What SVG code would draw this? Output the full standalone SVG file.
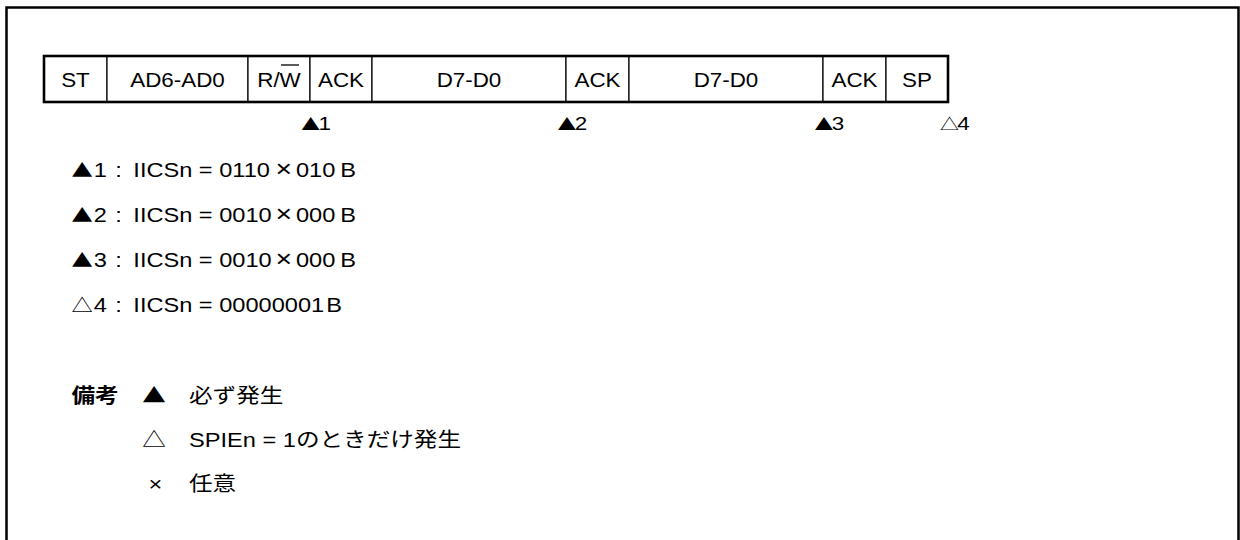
<svg xmlns="http://www.w3.org/2000/svg" width="1240" height="540" viewBox="0 0 1240 540">
<style>
.frame{fill:none;stroke:#000;stroke-width:2.5}
.cell{fill:#fff;stroke:#000;stroke-width:1.2}
.outline{fill:none;stroke:#000;stroke-width:2.6}
.t{transform:scale(1.18,1);font-family:"Liberation Sans","Noto Sans CJK JP",sans-serif;fill:#000}
.tr{transform:scale(1.12,1);font-family:"Liberation Sans","Noto Sans CJK JP",sans-serif;fill:#000}
.lbl{font-size:20px;text-anchor:middle}
.mk{font-size:19px}
.sym{font-family:"Noto Sans CJK JP",sans-serif}
.ls{font-size:20px}
.x{font-size:24px}
.jp{font-family:"Noto Sans CJK JP",sans-serif;font-size:20px}
.b{font-weight:bold}
</style>
<rect width="1240" height="540" fill="#fff"/>
<path class="frame" d="M6.5,541 V7.5 H1238.5 V541"/>

<g id="frame-row">
<g id="cell-st"><rect class="cell" x="44" y="56" width="63" height="46"/><text class="tr lbl" x="67.41" y="87">ST</text></g>
<g id="cell-addr"><rect class="cell" x="107" y="56" width="141" height="46"/><text class="tr lbl" x="158.48" y="87">AD6-AD0</text></g>
<g id="cell-rw"><rect class="cell" x="248" y="56" width="62" height="46"/><text class="tr lbl" x="249.11" y="87">R/W</text><line x1="281" y1="65" x2="299" y2="65" stroke="#000" stroke-width="1.3"/></g>
<g id="cell-ack1"><rect class="cell" x="310" y="56" width="62" height="46"/><text class="tr lbl" x="304.46" y="87">ACK</text></g>
<g id="cell-data1"><rect class="cell" x="372" y="56" width="194" height="46"/><text class="tr lbl" x="418.75" y="87">D7-D0</text></g>
<g id="cell-ack2"><rect class="cell" x="566" y="56" width="63" height="46"/><text class="tr lbl" x="533.48" y="87">ACK</text></g>
<g id="cell-data2"><rect class="cell" x="629" y="56" width="194" height="46"/><text class="tr lbl" x="648.21" y="87">D7-D0</text></g>
<g id="cell-ack3"><rect class="cell" x="823" y="56" width="63" height="46"/><text class="tr lbl" x="762.95" y="87">ACK</text></g>
<g id="cell-sp"><rect class="cell" x="886" y="56" width="62" height="46"/><text class="tr lbl" x="818.75" y="87">SP</text></g>
<rect class="outline" x="44" y="56" width="904" height="46"/>
</g>

<g id="markers">
<text class="t mk" y="130"><tspan class="sym" font-size="16" x="255.4">▲</tspan><tspan x="270">1</tspan></text>
<text class="t mk" y="130"><tspan class="sym" font-size="16" x="472.4">▲</tspan><tspan x="487">2</tspan></text>
<text class="t mk" y="130"><tspan class="sym" font-size="16" x="690.2">▲</tspan><tspan x="704.8">3</tspan></text>
<text class="t mk" y="130"><tspan class="sym" font-size="16" x="796.6">△</tspan><tspan x="811.2">4</tspan></text>
</g>

<g id="list">
<text class="t ls" y="177"><tspan class="sym" font-size="18" x="60.6">▲</tspan><tspan x="79.5">1</tspan><tspan x="97.6">:</tspan><tspan x="113">IICSn = 0110</tspan><tspan class="x" x="233.4" dy="0.5">×</tspan><tspan x="250.8" dy="-0.5">010</tspan><tspan x="288.4">B</tspan></text>
<text class="t ls" y="222"><tspan class="sym" font-size="18" x="60.6">▲</tspan><tspan x="79.5">2</tspan><tspan x="97.6">:</tspan><tspan x="113">IICSn = 0010</tspan><tspan class="x" x="233.4" dy="0.5">×</tspan><tspan x="250.8" dy="-0.5">000</tspan><tspan x="288.4">B</tspan></text>
<text class="t ls" y="267"><tspan class="sym" font-size="18" x="60.6">▲</tspan><tspan x="79.5">3</tspan><tspan x="97.6">:</tspan><tspan x="113">IICSn = 0010</tspan><tspan class="x" x="233.4" dy="0.5">×</tspan><tspan x="250.8" dy="-0.5">000</tspan><tspan x="288.4">B</tspan></text>
<text class="t ls" y="312"><tspan class="sym" font-size="18" x="60.6">△</tspan><tspan x="79.5">4</tspan><tspan x="97.6">:</tspan><tspan x="113">IICSn = 00000001</tspan><tspan x="276.5">B</tspan></text>
</g>

<g id="remarks">
<text class="t jp b" x="60.6" y="403">備考</text>
<text class="t jp" x="120.5" y="403">▲</text>
<text class="t jp" x="160.2" y="403">必ず発生</text>
<text class="t jp" x="120.5" y="447">△</text>
<text class="t ls" x="160.2" y="447">SPIEn = 1<tspan class="sym">のときだけ発生</tspan></text>
<text class="t ls" x="125.8" y="491">×</text>
<text class="t jp" x="160.2" y="491">任意</text>
</g>
</svg>
